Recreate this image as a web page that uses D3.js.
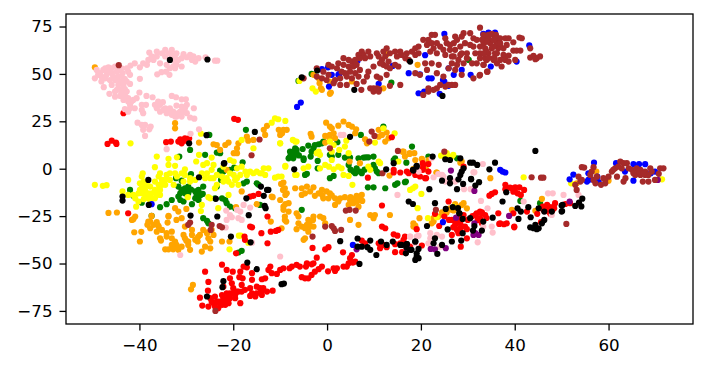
<!doctype html>
<html>
<head>
<meta charset="utf-8">
<script src="https://d3js.org/d3.v7.min.js"></script>
<style>
  body { margin: 0; background: white; }
  text { font-family: "DejaVu Sans", sans-serif; }
</style>
</head>
<body>
<svg id="chart" width="706" height="370"></svg>
<script>
// tick labels
var xTicks = [-40, -20, 0, 20, 40, 60];
var yTicks = [-75, -50, -25, 0, 25, 50, 75];

// values, one list per class, [x, y]
var greenPoints = [[-42,-11.2],[-41.3,-14.3],[-39.5,-17.9],[-35.6,-20.3],[-34.2,-18.7],[-33.1,-16.5],[-32.2,-5],[-31,-6.3],[-31.7,-9.4],[-31,-11.2],[-30.3,-10.3],[-29.6,-9.4],[-31.3,-13],[-30.3,-13],[-29.6,-13],[-28.1,-12],[-27.4,-11.2],[-28.1,-15.6],[-28.8,-18.7],[-27.4,-16.5],[-27.8,-13.8],[-26.4,-9.4],[-26.5,-13.3],[-31.7,-14.7],[-30.6,-17.3],[-31.3,-16.5],[-23.9,-15.6],[-22.4,-15.6],[-21.7,-16.5],[-21.4,-18.2],[-20.7,-20],[-23.5,-9.4],[-22.6,-5.9],[-22.8,-1],[-22.1,-1.5],[-20.7,-0.6],[-19.8,0.6],[-18,3.4],[-17.8,-7.7],[-17.1,-6.8],[-15,-7.7],[-14.6,-8.5],[-26,7.3],[-29.2,9.9],[-25.3,17.8],[-17.3,20.5],[-19.6,-20.8],[-26.4,-26.1],[-25.6,-27.5],[-25.3,-28.8],[-22.8,8.2],[-23.5,8.5],[-31.5,6.4],[-14.3,-19.1],[-29,-2.9],
  [-7.9,6.4],[-7.5,8.2],[-7.2,9],[-6.8,10.8],[-6.5,9.9],[-7.9,9],[-7.2,5.5],[-7.5,7.3],[-8.2,5.5],[-6.5,8.2],[-5.2,10.4],[-4,12.2],[-2.6,12.5],[-1.8,12.9],[-1.1,13.4],[-0.8,14.3],[-2.9,10.8],[-3.3,9],[-3.5,6.4],[-5,5.5],[-5,4.6],[-4.7,-3.3],[-4.3,-2.7],[-2,4.1],[-2,0.2],[0.6,-5],[1.4,-3.8],[2.4,7.3],[2.2,14],[0.6,7.3],[1,6.4],[3.8,5.9],[4.9,5.9],[6.7,5.5],[7.8,5.9],[8.3,6],[4.6,2],[5.6,-1.5],[6.3,0.2],[7,-1.5],[6,-2.4],[7.4,-2.4],[8.8,6],[9.9,6.4],[9.9,2],[10.6,-1.5],[10.2,0.2],[11,-2.4],[14.2,4.6],[14.5,5.5],[16.9,3.2],[18.1,11.7],[7.2,17.8],[8.7,-9.8],[9.9,-9.8],[12.4,-10.3],[14.5,-8.5],[15,-7.7],[16.8,-6.8],[-5.4,-21.7],[21.6,6.4],[27.7,5.5],[12,22.2],
  [-18.9,-44.2],[-18.2,-43.3],[-37.4,-24.9],[-3.3,50],[13.7,45.4],[30.2,57.4],[-6.1,46.3],[45.4,-18.2],[41.2,-17],[16.6,-7.1],[-25.1,17.8],
  [-30,-11.5],[-29,-11],[-27,-14],[-6,7],[-7,7],[5,-0.5],[8,-0.5]];

var orangePoints = [[-9.3,20.5],[-8.6,20.5],[-10,17.8],[-9.7,18.7],[-3.3,16.9],[-3.5,18.4],[-0.2,24.3],[0.6,22.2],[1,21.3],[2.4,22.7],[3.5,24.9],[4.6,23.1],[5.3,22.2],[6.2,20.8],[6,18.7],[1.4,18.7],[0.6,17.8],[-0.4,17.3],[-0.4,13.8],[1.7,16.1],[0.6,15.5],[8.1,15.5],[8.5,13.4],[11,20.5],[11.7,17.8],[11,16.9],[12.4,14.3],[12.7,19.1],[13.1,16.1],[4.8,3.8],[7,2.9],[16.3,9],[17.6,8.2],[18.6,8.2],[16.6,6.4],[20.2,5],[21.6,4.6],[13.3,-3.6],[23.4,-2],[21.1,-0.3],
  [-9.3,-7.3],[-9,-10.3],[-8.6,-13],[-10,-16.5],[-8.2,-18.2],[-9.3,-20],[-8.2,-22.6],[-9,-25.2],[-6.8,-10.3],[-5.4,-10.3],[-4.3,-9.4],[-2.9,-9.8],[-5.4,-13.8],[-4.7,-13],[-3.6,-12],[-2.6,-14.3],[-1.8,-13],[-1.1,-11.2],[-0.1,-12],[0.6,-13],[-0.8,-15.6],[0.3,-15.6],[1.7,-15.6],[2.8,-15.6],[1.7,-19.1],[2.4,-17.3],[3.8,-15],[4.9,-16.5],[6,-15.6],[6.3,-14.3],[7.4,-13.8],[4.6,-19.1],[5.6,-18.2],[6.7,-20],[6,-17.3],[7,-15.6],[-8.7,-27.9],[-6.1,-25.2],[-6.5,-23.5],[-6.1,-28.8],[-5.4,-30.5],[-4.3,-29.6],[-3.6,-27.9],[-2.9,-30.5],[-2.9,-25.2],[-4,-27],[-4.7,-31.4],[-0.8,-26.1],[-0.4,-28.8],[-1.5,-25.2],[4.9,-27],[6.7,-29.6],[9.2,-24.4],[10.2,-24.4],[9.9,-26.1],[13.4,-24.4],[18.4,-28.8],[-4.7,-36.7],[-5,-37.5],[-4,-33.2],[-3.6,-30.5],[-6.5,-31.9],[-9,-27],[-9.7,-31.4],
  [-46.6,-23.3],[-44.8,-23.1],[-41.6,-27],[-40.9,-25.2],[-41.1,-33.5],[-39.6,-33.3],[-39.9,-38.4],[-38.3,-29.6],[-37.7,-27.9],[-37,-29.6],[-36.3,-28.2],[-37.7,-31.4],[-36.3,-33.2],[-35.2,-32.3],[-34,-28.4],[-33.8,-25.2],[-34.2,-34],[-33.1,-33.2],[-35.6,-36.7],[-35.4,-37.9],[-34.2,-35.8],[-33.1,-36.7],[-32.4,-38.4],[-32.1,-40.2],[-33.1,-40.2],[-34.5,-42.5],[-33.8,-42.5],[-32.8,-42.5],[-31.7,-42.8],[-31,-41.1],[-29.2,-42.8],[-29.6,-40.2],[-30.3,-36.7],[-30.6,-34.9],[-29.6,-38.4],[-28.1,-37.5],[-27.6,-38.4],[-28.8,-32.3],[-28.8,-34.9],[-27.1,-34.9],[-26.4,-32.3],[-25.6,-34],[-24.6,-32.3],[-24.2,-34.9],[-25.3,-36.7],[-24.9,-38.4],[-26.7,-43.7],[-26,-41.1],[-24.9,-42],[-22.4,-38.4],[-20.8,-38.4],[-30.3,-30.5],[-32.1,-27],[-32.4,-20.8],[-31.7,-22.6],[-30,-21.2],[-28.6,-61.3],[-29,-63.6],[-11.6,-15],[-15,-18.7],[-18.2,-12],[-12,-27.9],[-19.4,-20.3],
  [-32.4,24],[-32.4,21.3],[-27.3,13.8],[-24.2,12.9],[-23.5,12.5],[-22.8,9.9],[-21.7,12.5],[-21,13.8],[-19.2,10.8],[-18.9,13.4],[-17.1,16.9],[-16.8,14.8],[-15.7,15.2],[-13.5,20.5],[-13.2,17.8],[-12.8,22.6],[-10.3,20.5],[-9.6,18.7],[-19.2,8.2],[-19.9,8.2],[-21.4,-0.6],[-33.8,-24.9],[-31,-26.1],[-41.3,-26.6],[-37.4,-24.9],[-38.1,-27.9],[-35.9,-30.5],[-9.8,-8],[-9.4,-11.2],[-8.9,-13.8],[-11.8,-14.7],[-8.9,-18.6],[-9.3,-21.7],
  [16.1,9],[17.6,7.8],[18.8,4.6],[20.2,5.2],[18.4,-0.1],[23.3,-2],[28.4,3.2],[28.7,3.8],[34.8,-5],[45.8,-15.9],[39.4,-21.7],[44.4,-22.2],[19.7,-26.1],[18.4,-30.5],[18.8,-30],[28.7,-19.1],[29.8,-20.9],[27.7,-20],[26.6,-21.7],[24.8,-24.4],[23.7,-25.2],[22.7,-26.1],[22.3,-28.8],[22.7,-27.9],[29.1,-18.2],[25.5,-23.1],[27.3,-18.6],[26.2,-20.9],
  [19.3,54.8],[-2.9,49.5],[-1.8,47.7],[-1.6,45.1],[-1.3,42.4],[-1.1,41.6],[12,42.4],[0.8,40.2],[0.6,39.5],[12.7,60.4],[0.5,46],[5.3,46],[57.4,-1.5],[53.2,-7.7],[60,-6.3],[-49.5,53.5],
  [-25.5,-33.5],[-27.5,-36],[-30,-38],[-36,-30],[-3,-27],[-1,-14],[1,-14],[5,-15],[6.5,-17],[7.5,-17],[27,-22],[24.5,-23]];

var yellowPoints = [[-49.5,-8.5],[-47.8,-9],[-47,-8.7],[-41.9,13.4],[-26.9,18.5],[-36.7,0.8],[-36.3,6.4],[-33.8,5.2],[-32,6],[-27.9,3.8],[-33.8,2],[-32.4,1.5],[-30.3,-0.3],[-27.3,7.3],[-26.4,2],[-24.6,5.9],[-25.6,2.9],[-24.2,2],[-22.1,1.1],[-20.7,4.6],[-19.9,3.8],[-18.2,15.2],[-11.8,24.3],[-11.1,26.6],[-10.4,26.1],[-10,13.4],[-8.9,1.5],[-15.7,10.8],
  [-39.3,-2.4],[-39.5,-4.1],[-39.9,-7.7],[-42.4,-5.9],[-35.6,-2.4],[-35.9,-4.1],[-35.2,-5.9],[-34.2,-3.3],[-33.5,-2.4],[-32,-4.1],[-30.3,-3.3],[-29.2,-6.8],[-30.6,-6.8],[-26.7,-2.4],[-26,-5],[-24.9,-5],[-23.5,-3.3],[-22.4,-4.1],[-21.4,-5],[-21,-6.8],[-20.7,-2.4],[-19.2,0.2],[-18.5,-3.3],[-18.2,1.1],[-17.1,-3.3],[-15.7,-2.4],[-15,-1.5],[-13.5,0.2],[-13.9,-2.4],[-12.5,0.2],[-13.2,-3.3],[-19.2,-5],[-20.3,-8.5],[-18.9,-8.5],[-23.9,-10.3],[-23.5,-8.5],[-25.3,-15],[-24.9,-15.6],[-21,-13.8],[-26.7,-19.1],[-23.2,-20.8],[-26.9,-22.3],
  [-39.5,-10.3],[-38.8,-11.2],[-39.5,-13],[-38.8,-13.8],[-38.1,-13],[-36.7,-11.2],[-35.6,-11.2],[-35.2,-8.5],[-34.5,-5.9],[-35.9,-8.5],[-36.7,-6.8],[-37.7,-9.4],[-39.1,-16.1],[-37.7,-16.5],[-36.7,-15.6],[-35.6,-13.8],[-40.2,-17.3],[-40.7,-20],[-41.3,-13.8],[-42.4,-13.8],[-43.6,-12],[-40.9,-15.6],[-32.7,-8.5],[-29.7,-15],[-10.4,-4.1],[-11.1,-4.7],[-38.4,-8.5],[-39.9,-11.2],
  [-8.9,25.2],[-10,13.4],[-7.3,15.2],[-6.8,14.3],[-6.5,14.3],[-1.8,9],[-1.5,7.3],[-2.2,8.2],[-8.9,1.1],[-6.5,-3.3],[-6.8,-3.3],[-5,0.2],[-4,1.1],[-9.7,-4.1],[-1.5,0.2],[-0.4,2],[0.4,1.1],[1.4,-0.3],[1,4.6],[2.4,1.1],[3.1,0.2],[2.6,9.9],[4.1,14.8],[3.8,11.7],[4.6,8.2],[3.5,-3.3],[4.6,-3.8],[8.8,1.1],[9.2,-0.6],[11,3.8],[11.3,2.9],[12,21.3],[14.4,18.7],[10.2,13.8],[5.4,-8.5],[15.2,3.8],[17.7,-11.2],[18.8,-9.4],[18.3,-10.3],[20.1,-13.3],[19.3,-20.8],[24.3,6.9],[25.5,8.2],[26.6,6.4],[21.5,-26.1],[23.4,-25.6],[27,-20],[0.6,14.3],[1,9],[1.4,12.5],[41.9,-4.5],[26.9,7.3],[25.5,7.3],[71.4,-5.6],[52,-7.7],[-5.9,46.3],[-3.1,42.4],[-2.4,40.7],[-18.8,-35.3],[-18.4,-35.3],[-20.8,-42.5],[-16.8,-39],
  [-38.8,-8.5],[-37.4,-13],[-36.3,-13.8],[-34.5,-8.5],[-33.5,-5.9],[-32.4,-2.4],[-31,-2.4],[-29.2,-5],[-28.1,-5.9],[-25.6,-2.4],[-24.6,-0.6],[-24.2,-5],[-22.1,-6.8],[-19.9,-3.3],[-19.6,-5.9],[-17.4,-1.5],[-16.4,-1.5],[-14.3,-2.4],[-39.1,-6.8],[-40.2,-13],[-37.4,-15.6],[-35.9,-11.2],[-38.1,-15.6]];

var redPoints = [[-43.4,29.3],[-19.8,26.3],[-19,25.8],[-46.8,13.1],[-45.9,14.8],[-45,13.8],[-44.9,13.1],[-34.3,14],[-33.3,14.3],[-31.3,15.5],[-30.3,16],[-29.4,16],[-31.7,14.3],[-31,13.4],[-30.1,14.8],[-31.2,14.8],
  [-26,-54.3],[-25.3,-59.7],[-25.4,-64.3],[-27.1,-68],[-26.6,-72.2],[-22.4,-50.6],[-21.4,-53.4],[-20.1,-54.3],[-18.5,-54.3],[-17.8,-51.6],[-17.1,-52],[-16,-55.1],[-16,-58.6],[-20.7,-57.8],[-18.7,-57.2],[-18,-57.8],[-20.3,-60.4],[-22.1,-62.2],[-20,-63],[-18.2,-61.3],[-17.5,-63.9],[-18.9,-64.8],[-20.7,-65.7],[-22.4,-66.6],[-23.9,-67.4],[-24.6,-70.1],[-25.3,-72.7],[-23.9,-72.7],[-22.8,-70.1],[-21.7,-71.8],[-21,-68.3],[-19.6,-68.3],[-22.1,-68.3],[-21,-70.9],[-23.2,-73.6],[-18.5,-70.9],[-16.4,-63],[-15,-62.2],[-13.9,-58.3],[-13.2,-57.8],[-12.5,-53.4],[-12.1,-51.6],[-11.8,-55.1],[-10.7,-55.5],[-14.3,-63],[-13.9,-66.6],[-15.3,-67.4],[-16.4,-67.1],[-13.9,-64.8],[-11.6,-64.3],[-12.8,-64.8],[-19.6,-66.6],[-24.9,-68.3],[-22.9,-70.9],[-21.7,-70.1],
  [-42.4,-23.5],[-16.4,-30.5],[-16,-30.9],[-14,-34],[-17.6,-35.8],[-17.5,-37.5],[-12.7,-39.3],[-19.4,-44.6],[-12,-33.2],[-10.9,-32.8],[-10.4,-32.3],[-12.7,-25.2],[-16.4,-14.7],[-15.7,-14.3],[-14.6,-13.3],
  [-10,-53.4],[-9.3,-52.5],[-8,-52.5],[-7.5,-51.6],[-6.5,-50.7],[-5.8,-51.6],[-4.3,-49.9],[-4.5,-51.6],[-3.3,-50.4],[-2.9,-49.9],[-2.2,-46.9],[-1.1,-51.6],[-1.8,-53],[-2.6,-54.3],[-3.3,-56],[-4,-57.8],[-4.7,-57.8],[-5.4,-57.2],[0.2,-54.1],[1.4,-52.5],[2.1,-52.5],[1.7,-53.9],[3.5,-51.6],[4.2,-51.6],[4.6,-49.9],[5.3,-45.5],[4.9,-47.2],[6,-49],[5.5,-49.5],[-3.1,-41.8],[-0.4,-42.5],[0.3,-41.4],[3.4,-44.1],[11.7,-19.4],[11.7,-30.5],[12.4,-31.4],[14.2,-34.6],[15,-35.3],[16.6,-35.8],[16.3,-37.5],[15.6,-39.3],[7.4,-37.9],[8.1,-39.3],[11,-39.3],[12,-40.2],[11.3,-41.9],[12.7,-41.4],[14.5,-39.8],[14.5,-44],[16,-44],[20.2,-40.5],[19.1,-31.9],
  [8.7,-4.7],[13.8,16.6],[14.2,-0.6],[14.2,-2],[15.6,-2],[17,-1.5],[17.4,-2.4],[18.8,-3.3],[19.8,-4.1],[20.9,-5],[20.5,2],[21.6,2.5],[20.4,-0.6],[21.6,-1.5],
  [18.8,-0.6],[20.4,2.9],[20.4,0.2],[21.1,-5],[29.1,1.1],[38,-8.5],[38,-10.8],[39.4,-10.3],[40.1,-9.8],[41,-9.8],[42,-11.2],[39.7,-12.1],[40.6,-13],[41.3,-13.8],[34.6,-14.2],[35.8,-12.4],[35.1,-13.3],[25.9,-17.3],[32.6,-22.6],[31.9,-23.5],[32.6,-26.1],[31.6,-24.4],[33.7,-24.4],[33,-28.8],[32.1,-27],[36.5,-23.5],[36.9,-28.8],[38.3,-28.8],[39.9,-30.5],[26.6,-27],[27.7,-27],[28.4,-28.8],[29.1,-24.4],[28.4,-31.4],[27.7,-32.3],[29.4,-30.5],[29.8,-31.9],[26.6,-34.9],[29.8,-36.7],[28.5,-41.1],[23.9,-30.2],[26,-27],[25,-25.2],[27.3,-29.6],[28,-34],[26.9,-30.9],[23,-23.8],[17.7,-41.1],
  [42.6,-22.6],[46.9,-19.1],[46.1,-21.7],[47.2,-22.6],[48.3,-20],[48.6,-18.2],[47.2,-20],[48.4,-20.9],[47.6,-23.8],[50.8,-18.6],[51.8,-18.2],[44.8,-23.8],[45.6,-28.2],[39.7,-23.5],[36.7,-29.1],[37.7,-29.3],[39.9,-30.9],[33,-23.5],
  [-23.5,-70],[-22.4,-71.8],[-20.7,-68.3],[-19.2,-64.8],[-18.2,-64.8],[-20,-65.7],[-21.4,-65.7],[-15,-65.7],[-13.6,-63],[-16,-65.7],[-24.2,-70.9],[-21.4,-70.1],[27.5,-29],[28.5,-26],[30,-27],[31,-25],[33,-23],[34,-26],[47,-21],[48,-22],[46,-20],[39,-10],[40,-11.5]];

var pinkPoints = [[-37.9,61.3],[-36.3,61.8],[-36.3,59.2],[-34.5,62.7],[-33.1,62.7],[-34.5,59.2],[-33.1,60],[-32.1,60.9],[-30.6,60.4],[-29.9,58.8],[-28.5,59.2],[-27.4,58.3],[-28.1,56.5],[-25.9,58.8],[-23.9,57],[-23.4,57],[-38.1,57.4],[-37,57.4],[-38.4,54.8],[-39.9,53.5],[-41,55.6],[-41.9,54.4],[-35.6,55.6],[-34.2,54.8],[-32.8,53.9],[-31,53.9],[-32.4,56.5],[-31.7,57.4],[-34.3,51.2],[-35.3,50.9],[-36.2,49.8],[-33.6,49.5],[-32.4,53],
  [-49.1,52.1],[-48.4,50.4],[-47.7,52.1],[-46.6,53.5],[-45.9,53],[-48.1,48.6],[-47,49.5],[-45.9,50.4],[-44.8,51.2],[-43.8,53],[-43.6,50.4],[-44.5,48.6],[-42.4,51.2],[-42,49.5],[-49.5,47.7],[-48.1,46],[-47.6,43],[-46.3,46.8],[-45.2,46.8],[-44.1,46],[-45.9,44.2],[-44.5,44.2],[-43.1,47.2],[-42,44.7],[-39.9,47.4],
  [-46.4,39.5],[-45.2,40.7],[-44.1,41.6],[-43.1,42],[-45.2,38],[-44.1,38.4],[-43.1,38.9],[-42.4,37.2],[-40,40.2],[-38.5,38.4],[-37.2,37.7],[-40.6,37.2],[-41.7,35.4],[-43.4,36.3],[-42,33.7],[-43.1,31.4],[-42,31.9],[-41,31.9],[-39.5,33.7],[-38.6,33.7],[-39.5,31],[-39.2,29.3],[-33.1,38.4],[-32.2,37.7],[-36.7,33.7],[-36,35.4],[-35,35.1],[-36.3,31.9],[-35.6,30.1],[-34.5,31.9],[-33.5,31.9],[-32.1,33.3],[-31,36.6],[-30.1,36.6],[-29.9,33.7],[-31,32.8],[-28.4,31.9],[-34.2,29.3],[-33.1,28.4],[-32.1,27.5],[-31,27.5],[-29.9,29.3],[-29.2,27],[-28.3,26.4],[-32.8,30.1],[-31.3,30.1],
  [-40.4,24.3],[-39.5,23.1],[-38.8,23.1],[-37.6,22.2],[-37.9,20.8],[-39.2,20.5],[-38.8,17.3],[-27.3,20.8],[-29.1,18.4],[-34.2,10.3],
  [-21.5,-22.1],[-20.7,-24.4],[-21.4,-27],[-20.3,-25.6],[-19.2,-21.7],[-18.5,-22.6],[-17.8,-19.1],[-16.4,-20.5],[-18.9,-26.1],[-18.2,-27],[-21.6,-31],[-31.3,-45.5],[-16,-39],[15,-13.8],[-10,-46.3],[17.7,-35.8],[19.5,-35.3],[3.5,17.8],[2.9,17.8],[19.5,-1.5],[24.5,-3.3],[25.2,-6.8],[31.2,-1.9],[22.3,5.5],
  [33.2,2.5],[31.4,-1.9],[47.1,-13],[48.1,-13],[50.4,-13.8],[41.9,-17.3],[32.8,-17],[34.2,-20.9],[35.1,-30.5],[33.3,-30.5],[35.3,-33.7],[32.1,-38.8],[22,-34],[22,-36.7],[23.4,-34.9],[24.5,-35.8],[24.1,-41.1],[21.6,-39.3],[17.7,-35.8],[19.1,-35.8],[18.8,-39.3],[24.8,-4.1],[23.7,-2.8],[22.7,-4.5],[47.9,-24.4],[27.3,-6.8],[30.6,-10.8],[29.2,-10.8],[53.6,-13.8],
  [-47.3,53],[-46.3,52.1],[-45.2,53.9],[-48.8,49.5],[-47.3,47.7],[-45.6,48.6],[-43.4,47.7],[-42.7,46],[-46.6,51.2],[-44.5,52.1],[-42.7,53],[-43.4,44.2],[-44.8,41.6],[-43.8,39.8],[-42.7,40.7],[-42.4,35.4],[-41.3,36.3],[-42.4,30.1],[-35.6,33.7],[-34.9,31],[-33.8,30.1],[-31.7,29.3],[-30.6,30.1],[-32.4,27.5],[-30.3,31.9],[-37.4,59.2],[-35.2,60.9],[-33.8,60.9],[-32.4,58.3],[-31,58.3],[-28.8,57.4],[-29.2,60],[-32.1,54.8],[-33.5,53],[-39.2,55.6]];

var bluePoints = [[25,71.1],[34.4,71.8],[20.9,59.9],[6.5,57],[-1.1,52.5],[0.2,53.5],[1,49.5],[2.6,50],[2.4,49.5],[14,54.2],[17.4,50.4],[11,44.8],[0.4,43.3],[19.8,49.8],[21.6,47.7],[22.3,47.7],[24.7,46.8],[25,46],[25.9,53],[28.7,52.1],[27,49.5],[30.6,49.5],[34.9,53.9],[19.5,39.8],[20.7,40.7],[24,39.5],[25.9,43.7],[-5.6,34.9],[-6.4,32.6],
  [34.4,71.5],[35.8,71.8],[43.1,65],[40.4,56.5],[33.3,71.1],[56.9,3.2],[61.6,2.9],[65.3,2.5],[66.5,2.4],[67.8,2.4],[52.5,-3.1],[51.7,-5.6],[55.4,-6.8],[55.7,-5.9],[56.3,-5.6],[55.7,-2.4],[65.3,-6.3],[57.9,-7.1],[63.5,-1.5],[69.9,-1.5],[69,-2.4],[36.9,-0.6],[37.4,-1.5],[38,-2],[57.6,-4.2],[24.7,-28.2],[5.5,-40.2],[-37.4,-18.7]];

var purplePoints = [[26.4,-1],[31.4,-11.7],[27.5,-25.8],[31.4,-28.8],[31.2,-34.9],[32.3,-34.9],[38.8,-24.9],[22.1,-42.3],[23,-42.5],[25.3,-41.9],[17.1,-41.9],[51.7,-17.3],[70.5,-5.9],[6.3,-42.5],[17,-42],[31.6,-34]];

var brownPoints = [[32.6,74.4],[22.3,70.6],[23,70.6],[25.2,68.8],[25.5,66.2],[27.3,69.7],[27.7,68],[29.1,71.5],[28.7,69.7],[30.5,71.5],[31.2,68.8],[33.4,68.8],[34.4,69.7],[35.5,70.6],[36.5,68.8],[33.4,66.2],[34.8,66.2],[36.2,66.2],[33.7,63.5],[35.1,63.5],[36.5,63.5],[32.6,60.9],[34.4,60.9],[35.8,60.9],[20.5,68],[21.3,65.3],[19.5,64.4],[22.3,66.2],[22.7,63.5],[24.1,64.4],[24.8,62.7],[26.2,62.7],[27,66.2],[27.3,62.7],[28.4,64.4],[29.4,66.2],[30.5,65.3],[22,61.8],[23.4,60.9],[25.2,60],[26.6,59.2],[28.4,60],[29.8,60.9],[31.2,64.4],[31.6,60.9],[32.6,58.3],[34,57.4],[35.5,57.4],[31.9,55.6],[33.4,54.8],[26.6,55.6],[27.7,54.8],[29.1,55.6],[30.9,55.6],[25.9,53],[27.3,52.1],[28.7,49.5],[31.2,47.7],[32.5,49.1],[34.1,51.2],[22.3,55.6],[23.8,54.8],[20.9,55.6],[21.3,52.1],[18.8,50.4],[19.8,49.5],[23.4,50.4],[24.8,48.6],[21.6,42.4],[23.4,42.4],[24.1,44.2],[26.6,44.2],[27.3,44.2],[25.2,43.3],[20.5,38.9],[21.6,40.7],[19.5,60.9],[18.1,61.8],[18.8,63.5],[17,60.9],[16.7,58.3],[17.4,57.4],[14.5,61.8],[14.9,59.2],[15.9,60],[12.7,63.5],[12,61.8],[10.6,60.9],[11,59.2],[8.8,61.8],[7.4,61.8],[7.8,60],[6.7,60],[8.1,58.3],[7,58.3],[12.4,59.2],[11.7,57.4],[13.1,56.5],[12,54.8],[12.7,53.9],[14.5,54.8],[13.4,53],[15.2,53.9],[9.9,53.9],[8.8,51.2],[8.5,48.6],[7.8,46],[10.6,48.6],[11.3,47.7],[12.7,49.5],[3.5,58.3],[4.6,57.4],[5.3,56.5],[3.5,54.8],[4.6,53.9],[5.6,53.9],[6.3,54.8],[7,52.1],[4.9,51.2],[3.8,50.4],[6,50.4],[5.3,47.7],[6.7,48.6],[2.4,55.6],[1,53.9],[0.3,54.8],[-0.8,51.2],[0.3,49.5],[-1.1,47.7],[1.7,46.8],[2.8,44.2],[1.4,45.1],[4.2,44.2],[6.3,44.7],[9.2,42.4],[10.2,41.6],[11.1,41.9],[9.9,40.7],[11,40.7],[7.3,41.6],[13.4,43.7],[15.6,44.2],[-2.2,48.6],[-5,47.7],[-2.2,53],
  [33.3,70.6],[34.4,70.6],[35.1,71.1],[36,70.6],[33,68],[34.4,68],[35.8,68.8],[36.9,68.8],[38,68.8],[38.7,68.8],[41,69.2],[41.5,68.8],[39.7,66.7],[38.3,65.3],[35.5,64.4],[36.9,64.4],[37.6,63.5],[39.7,62.3],[40.4,62.3],[41.2,62.3],[34,61.8],[36.2,60.9],[37.6,60],[38.7,59.7],[33.7,58.3],[35.5,58.3],[36.9,57.4],[38,57.4],[38.7,56.5],[40.1,57.4],[43.3,63.5],[43.3,58.6],[44,59.5],[44.7,58.3],[45.4,59.2],[44.4,57.8],[33.3,54.8],[36.2,55.6],[37.2,53.9],[34.2,51.2],[32.6,49.5],
  [54.3,0.8],[54.8,0.6],[56.8,0.8],[56.4,-1.5],[56.1,-3.3],[53.6,-4.2],[54.3,-5.9],[54,-6.8],[57.5,-4.2],[57.2,-7.7],[58.4,-8.5],[59.3,-7.7],[58.9,-5],[60,-4.2],[60.7,-1.5],[61.4,0.2],[62.5,3.8],[62.1,1.1],[63.2,2.9],[63.9,2.9],[64.3,0.2],[61.8,-4.2],[63.2,-6.8],[63.6,-5],[65,-0.6],[66,0.2],[66.8,-0.6],[67.8,-1.5],[65.7,-3.3],[66.8,-3.3],[67.8,-3.3],[68.9,0.2],[69.2,-1.5],[70.7,-2.7],[71,0.2],[71.7,0.2],[68.5,-3.3],[67.3,-6.8],[68.5,-6.8],[69.9,-5.9],[52.9,-8.5],[53.2,-11.2],[51,-29.1],[43.6,-4.5],[45.6,-4.7],[46.1,-4.7],
  [-0.4,-30.5],[1,-30.2],[1.4,-31.4],[1.7,-32.8],[3,-32.3],[-3.1,-35.8],[4,-22.1],[4.8,-21.7],[6.1,-22.1],[-29.6,-29.6],[-29.2,-28.4],[-24.6,-29.6],[-24.8,-32.3],[-22.9,-30.2],[-22.4,-30.9],[-23.8,-75],[0.6,10.8],[9.5,19.6],[10.1,17.3],[9,14.3],[11.8,-2.4],[15.1,9.4],[-44.4,54.6],[-14.4,15.4],[-16.1,7.1],[25,9],[23.2,-21.7],
  [2.1,53],[3.1,51.2],[4.2,48.6],[2.8,47.7],[-0.1,46.8],[6,57.4],[9.2,59.2],[11.3,55.6],[13.4,60.9],[15.6,61.8],[18.8,60],[21.6,68],[23.4,66.2],[26.2,65.3],[28.7,60.9],[27,59.2],[28,57.4],[29.8,58.3],[31.9,68],[32.6,64.4],[34.1,67],[35.5,68],[36.9,66.2],[33.4,60.9],[34.4,58.3],[35.7,58.3],[9.9,42.4],[10.6,42.4],[22.7,41.6],[25.9,44.2],[61,-0.6],[62.8,0.2],[66.4,-1.5],[67.5,-2.4],[65.3,-2.4],[59.3,-5.9],[56.8,-5.9]];

var blackPoints = [[-33.5,57.4],[-25.5,57.6],[-29.4,13.4],[-25.7,17.7],[-15.4,19.4],[-22,2.7],[-5.4,48.2],[-2.1,51.8],[5.8,41.6],[17.7,56.5],[24.6,38.4],
  [-38.1,-5.9],[-43.6,-14.7],[-43.6,-16.8],[-38,-19.1],[-29.1,-24.7],[-27.3,-4.5],[-23.7,-15.9],[-23.4,-25.2],[-20.5,-35.8],[-16.3,-38.8],[-16.7,-24.5],[-17.2,-15.6],[-13.5,-14.3],[-14.1,-9.4],[-12.8,-11.2],[-12.5,-11.2],[-13.3,-19.6],[-13.1,-20.8],[-17,-49.5],[-15,-53],[-22.1,-59.3],[-22.3,-62.5],[-25.6,-67.4],[-21.9,2.9],
  [4.9,16.8],[-7,-0.3],[14.2,2.9],[12.6,-0.3],[18.4,-1],[19.1,1.5],[22.5,6.4],[25.2,5],[26.2,4.6],[28.4,5.5],[30.5,3.2],[31.1,3.2],[32,2],[29.1,0.2],[28.7,-1.5],[28.4,-3.3],[26.2,-5],[24.5,-6.3],[26.2,-7.7],[28,-5.6],[29,-8],[27.7,-10.8],[30.7,-5.6],[21.8,-10.8],[17.4,-17.3],[18.3,-18.6],[23,-18.2],[25.3,-21.2],[26.8,-20.3],[27.9,-20.8],[28.2,-23.5],[21.3,-30.2],
  [44.4,9.4],[35.8,3.2],[34.6,-0.3],[30.7,-5.4],[32.4,-7.1],[31.6,-8.9],[38.2,-12.4],[37.4,-17.3],[40.6,-20.9],[41.3,-22.6],[40.8,-26.5],[43.4,-25.6],[42.9,-20.3],[45.1,-20.9],[46.3,-22.6],[47.9,-22.6],[50.1,-22.3],[46.3,-27],[45.8,-28.8],[43.3,-30.9],[44,-31.4],[45.1,-31.4],[44.4,-29.6],[44.7,-31.9],[50.2,-19.1],[28.2,-23.5],[28.9,-26.5],[30.5,-26.1],[33.3,-27.9],[31.4,-30.2],[31.1,-32.6],[33,-32.6],[25.7,-32],[28.9,-34],[28.6,-37.9],[26.6,-38.4],[35.3,-25.8],[18.8,-38.4],[17.7,-42.8],[15.9,-40.2],[17,-39.7],[19.1,-46.3],[23,-36.7],[22.7,-39.3],[23.5,-44.9],[24.5,-40.2],[19.1,1.1],[18.3,-0.6],
  [54.4,-15.8],[53.7,-17.9],[54.2,-19.9],[52.9,-19.6],[50,-19.4],[50,-22.6],
  [-9.2,-60.6],[-9.7,-60.9],[2.8,-38.2],[6.5,-36.8],[9.2,-37.9],[6.5,-41.1],[7.4,-41.1],[8.6,-41.4],[9.2,-42.8],[10.5,-45.5],[11.5,-38.4],[12.7,-40.2],[14,-38.4],[15.6,-40.2],[17,-39.7],[16.9,-41.4],[18.8,-38.4],[18,-42.8],[16.8,-44.6],[19.5,-42.3],[19.1,-44.6],[19.5,-47.2],[18.8,-48.1],[6.9,-50.2]];

// drawn in this order, later classes lie on top
var classes = [
  { color: "green", points: greenPoints },
  { color: "orange", points: orangePoints },
  { color: "yellow", points: yellowPoints },
  { color: "red", points: redPoints },
  { color: "pink", points: pinkPoints },
  { color: "blue", points: bluePoints },
  { color: "purple", points: purplePoints },
  { color: "brown", points: brownPoints },
  { color: "black", points: blackPoints }
];

var svg = d3.select("#chart");

var x = d3.scaleLinear().domain([-55.65, 78]).range([66, 693]);
var y = d3.scaleLinear().domain([-81.9, 81.6]).range([324, 14]);

classes.forEach(function (c) {
  svg.append("g")
    .selectAll("circle")
    .data(c.points)
    .enter()
    .append("circle")
    .attr("cx", function (d) { return x(d[0]); })
    .attr("cy", function (d) { return y(d[1]); })
    .attr("r", 3.1)
    .attr("fill", c.color);
});

// axes
var xAxis = svg.append("g")
  .attr("transform", "translate(0,324)")
  .call(d3.axisBottom(x).tickValues(xTicks).tickSize(6.5).tickPadding(9).tickSizeOuter(0));
var yAxis = svg.append("g")
  .attr("transform", "translate(66,0)")
  .call(d3.axisLeft(y).tickValues(yTicks).tickSize(6.5).tickPadding(7).tickSizeOuter(0));

[xAxis, yAxis].forEach(function (a) {
  a.select(".domain").remove();
  a.selectAll("line").attr("stroke", "#000").attr("stroke-width", 1.3);
  a.selectAll("text").attr("fill", "#000").style("font-size", "16.7px");
});

// frame
svg.append("rect")
  .attr("x", 66).attr("y", 14)
  .attr("width", 627).attr("height", 310)
  .attr("fill", "none")
  .attr("stroke", "#000")
  .attr("stroke-width", 1.3);
</script>
</body>
</html>
